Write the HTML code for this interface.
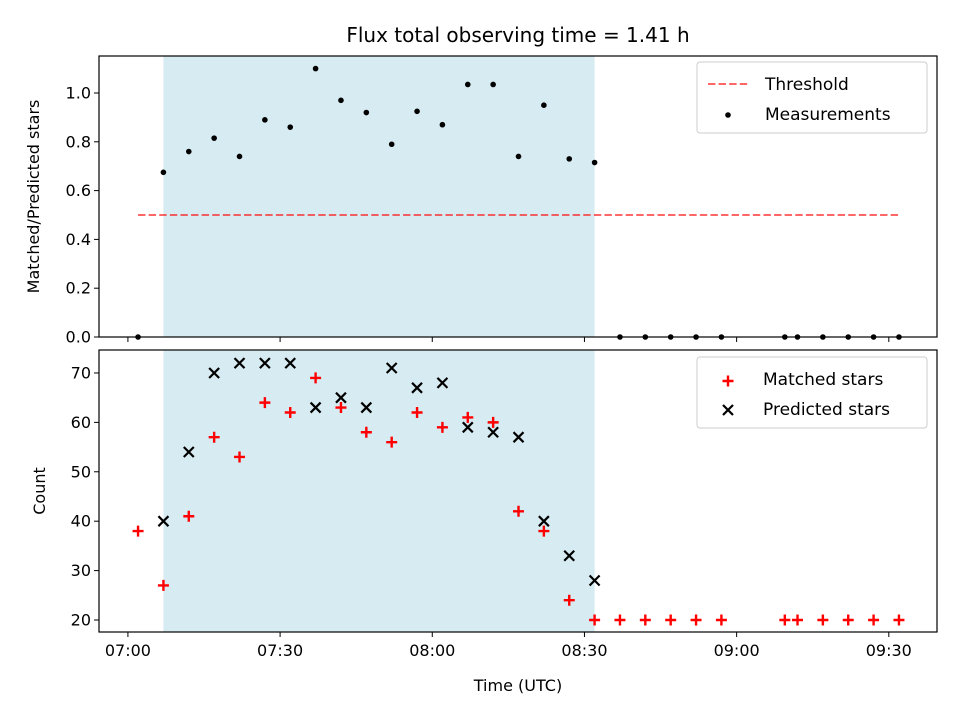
<!DOCTYPE html>
<html><head><meta charset="utf-8">
<style>
body{margin:0;background:#fff;}
svg{display:block;font-family:"DejaVu Sans","Liberation Sans",sans-serif;}
</style></head>
<body>
<svg id="chart" width="960" height="720" viewBox="0 0 960 720"></svg>
<script>
// minutes after 07:00
const timesMin = [2,7,12,17,22,27,32,37,42,47,52,57,62,67,72,77,82,87,92,97,102,107,112,117,129.5,132,137,142,147,152];
const ratioValues = [0,0.675,0.76,0.815,0.74,0.89,0.86,1.1,0.97,0.92,0.79,0.925,0.87,1.035,1.035,0.74,0.95,0.73,0.715,0,0,0,0,0,0,0,0,0,0,0];
const matchedValues = [38,27,41,57,53,64,62,69,63,58,56,62,59,61,60,42,38,24,20,20,20,20,20,20,20,20,20,20,20,20];
const predictedTimes = [7,12,17,22,27,32,37,42,47,52,57,62,67,72,77,82,87,92];
const predictedValues = [40,54,70,72,72,72,63,65,63,71,67,68,59,58,57,40,33,28];
const xTickMin = [0,30,60,90,120,150];
const xTickLabels = ["07:00","07:30","08:00","08:30","09:00","09:30"];
const topTicks = [0,0.2,0.4,0.6,0.8,1.0];
const botTicks = [20,30,40,50,60,70];
const threshold = 0.5;
const shadeStart = 7, shadeEnd = 92;

const NS="http://www.w3.org/2000/svg";
const svg=document.getElementById('chart');
function el(tag,attrs,parent){const e=document.createElementNS(NS,tag);for(const k in attrs)e.setAttribute(k,attrs[k]);(parent||svg).appendChild(e);return e;}
const L=99,R=937;
const xMin=-5.7,xMax=159.5;
const X=m=>L+(m-xMin)/(xMax-xMin)*(R-L);
const tT=56,tB=337,tMax=(337-56)/244;
const Yt=v=>tB-v/tMax*(tB-tT);
const bT=350,bB=632,bMin=17.57,bMax=74.65;
const Yb=v=>bB-(v-bMin)/(bMax-bMin)*(bB-bT);

let t=el('text',{x:518,y:42,'text-anchor':'middle','font-size':'20'});t.textContent='Flux total observing time = 1.41 h';


function panel(top,bot,name){
  let s=el('rect',{x:X(shadeStart),y:top,width:X(shadeEnd)-X(shadeStart),height:bot-top,fill:'#add8e6','fill-opacity':0.5});
  
}
panel(tT,tB,'top');panel(bT,bB,'bottom');

let th=el('line',{x1:X(timesMin[0]),x2:X(timesMin[timesMin.length-1]),y1:Yt(threshold),y2:Yt(threshold),stroke:'#ff0000','stroke-opacity':0.6,'stroke-width':2,'stroke-dasharray':'7.4,3.2'});


timesMin.forEach((m,i)=>{
  const c=el('circle',{cx:X(m),cy:Yt(ratioValues[i]),r:2.8,fill:'#000'});
  
  
});
timesMin.forEach((m,i)=>{
  const x=X(m),y=Yb(matchedValues[i]);
  const p=el('path',{d:`M${x-5.5} ${y}H${x+5.5}M${x} ${y-5.5}V${y+5.5}`,stroke:'#ff0000','stroke-width':2.4});
  
  
});
predictedTimes.forEach((m,i)=>{
  const x=X(m),y=Yb(predictedValues[i]);
  const p=el('path',{d:`M${x-5} ${y-5}L${x+5} ${y+5}M${x-5} ${y+5}L${x+5} ${y-5}`,stroke:'#000','stroke-width':2.2});
  
  
});

[[tT,tB,'top'],[bT,bB,'bottom']].forEach(([a,b,n])=>{
  const f=el('rect',{x:L,y:a,width:R-L,height:b-a,fill:'none',stroke:'#000','stroke-width':1.2});
  
});
xTickMin.forEach((m,i)=>{
  const x=X(m);
  el('line',{x1:x,x2:x,y1:tB,y2:tB+5,stroke:'#000','stroke-width':1});
  el('line',{x1:x,x2:x,y1:bB,y2:bB+5,stroke:'#000','stroke-width':1});
  const tx=el('text',{x:x,y:bB+24,'text-anchor':'middle','font-size':'16'});tx.textContent=xTickLabels[i];
  
});
topTicks.forEach(v=>{
  const y=Yt(v);el('line',{x1:L-5,x2:L,y1:y,y2:y,stroke:'#000'});
  const tx=el('text',{x:L-8,y:y+5.5,'text-anchor':'end','font-size':'16'});tx.textContent=v.toFixed(1);
  
});
botTicks.forEach(v=>{
  const y=Yb(v);el('line',{x1:L-5,x2:L,y1:y,y2:y,stroke:'#000'});
  const tx=el('text',{x:L-8,y:y+5.5,'text-anchor':'end','font-size':'16'});tx.textContent=v;
  
});
let a1=el('text',{x:0,y:0,'text-anchor':'middle','font-size':'16',transform:`translate(39,${(tT+tB)/2}) rotate(-90)`});a1.textContent='Matched/Predicted stars';

let a2=el('text',{x:0,y:0,'text-anchor':'middle','font-size':'16',transform:`translate(45,${(bT+bB)/2}) rotate(-90)`});a2.textContent='Count';

let a3=el('text',{x:518,y:691,'text-anchor':'middle','font-size':'16'});a3.textContent='Time (UTC)';


let lg1=el('g',{});
el('rect',{x:697,y:62,width:230,height:71,rx:3,fill:'#fff','fill-opacity':0.8,stroke:'#ccc'},lg1);
el('line',{x1:708,x2:748,y1:84,y2:84,stroke:'#ff0000','stroke-opacity':0.6,'stroke-width':2,'stroke-dasharray':'7.4,3.2'},lg1);
let l1=el('text',{x:765,y:90,'font-size':'17'},lg1);l1.textContent='Threshold';
el('circle',{cx:728,cy:115,r:2.8,fill:'#000'},lg1);
let l2=el('text',{x:765,y:120,'font-size':'17'},lg1);l2.textContent='Measurements';
let lg2=el('g',{});
el('rect',{x:697,y:357,width:230,height:71,rx:3,fill:'#fff','fill-opacity':0.8,stroke:'#ccc'},lg2);
el('path',{d:'M722.5 381H733.5M728 375.5V386.5',stroke:'#ff0000','stroke-width':2.4},lg2);
let l3=el('text',{x:763,y:385,'font-size':'17'},lg2);l3.textContent='Matched stars';
el('path',{d:'M723 405L733 415M723 415L733 405',stroke:'#000','stroke-width':2.2},lg2);
let l4=el('text',{x:763,y:415,'font-size':'17'},lg2);l4.textContent='Predicted stars';
</script>
</body></html>
